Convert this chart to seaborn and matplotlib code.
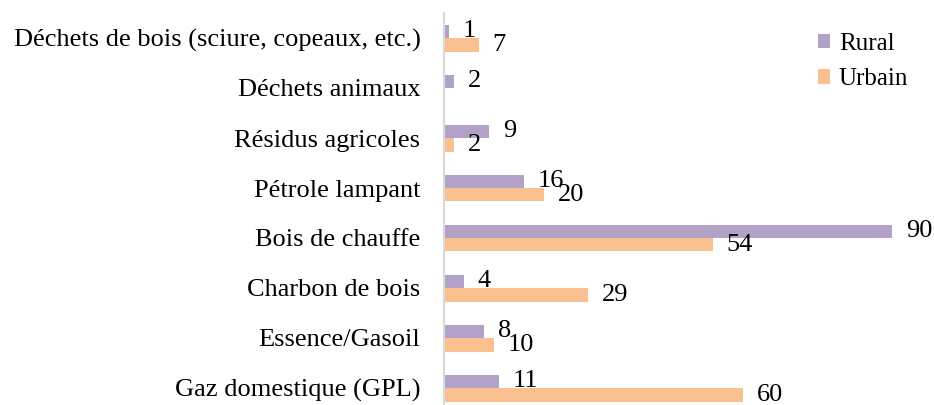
import matplotlib
matplotlib.use("Agg")
import matplotlib.pyplot as plt
import seaborn as sns
import pandas as pd
import numpy as np

categories = ["Déchets de bois (sciure, copeaux, etc.)", "Déchets animaux", "Résidus agricoles",
              "Pétrole lampant", "Bois de chauffe", "Charbon de bois", "Essence/Gasoil",
              "Gaz domestique (GPL)"]
rural = [1, 2, 9, 16, 90, 4, 8, 11]
urbain = [7, None, 2, 20, 54, 29, 10, 60]
series = ["Rural", "Urbain"]
colors = ["#b3a2c7", "#fac090"]

rows = []
for c, r, u in zip(categories, rural, urbain):
    rows.append({"cat": c, "serie": "Rural", "val": r})
    rows.append({"cat": c, "serie": "Urbain", "val": u})
df = pd.DataFrame(rows)

sns.set_theme(style="white")
plt.rcParams['font.family'] = ['Liberation Serif', 'DejaVu Serif']

fig = plt.figure(figsize=(9.34, 4.05), dpi=100)
ax = fig.add_axes([444/934, (405-413)/405, (934-444)/934, 400/405])
sns.barplot(data=df, y="cat", x="val", hue="serie", order=categories, hue_order=series,
            palette=colors, width=0.54, orient="h", ax=ax, saturation=1, legend=True,
            linewidth=0, edgecolor="none")

for cont in ax.containers:
    labels = []
    for v in cont.datavalues:
        labels.append("" if (v is None or np.isnan(v)) else f"{int(v)}")
    ax.bar_label(cont, labels=labels, padding=10, fontsize=19, color="black")

ax.set_xlim(0, 98.4)
ax.set_ylim(len(categories) - 0.5, -0.5)
ax.set_xlabel("")
ax.set_ylabel("")
ax.set_xticks([])
ax.tick_params(axis="y", which="major", length=0, labelsize=19, pad=17, colors="black")
for s in ["top", "right", "bottom"]:
    ax.spines[s].set_visible(False)
ax.spines["left"].set_color("#d9d9d9")
ax.spines["left"].set_linewidth(1.5)

leg = ax.legend(loc="upper left", bbox_to_anchor=((795 - 444) / 490, 1.0 - (10 - 13) / 400),
                frameon=False, fontsize=18, handlelength=0.5, handleheight=0.5,
                handletextpad=0.35, labelspacing=0.55)
for t in leg.get_texts():
    t.set_color("black")

fig.savefig("out.png", dpi=100)
